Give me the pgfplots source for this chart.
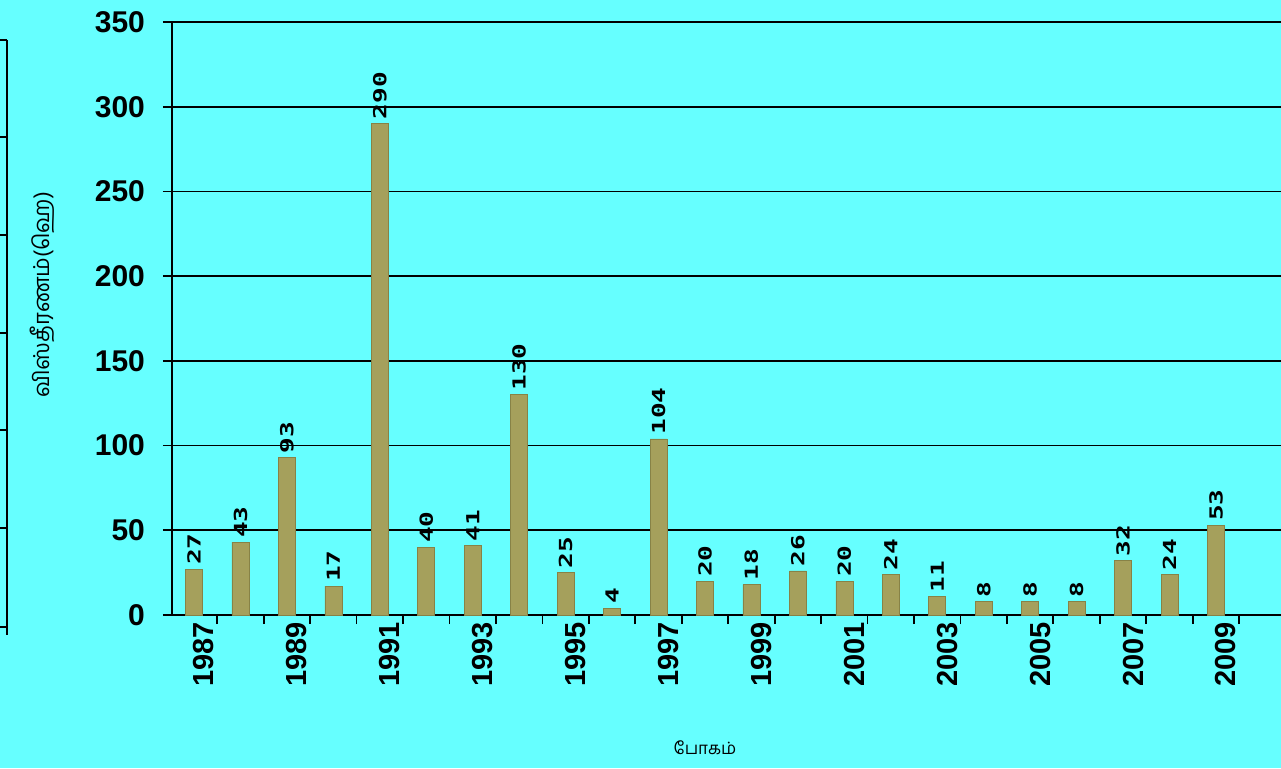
\documentclass[border=0pt]{standalone}
\usepackage{pgfplots}
\pgfplotsset{compat=1.18}
\usepackage{fontspec}
\setmainfont{Liberation Sans}
\newfontfamily\barfont{DejaVu Sans Mono}[FakeStretch=1.45]
\newfontfamily\tamilfont[Script=Tamil]{Hind Madurai}
\definecolor{bg}{RGB}{102,255,255}
\definecolor{barfill}{RGB}{165,160,92}
\definecolor{baredge}{RGB}{135,130,70}
\begin{document}
\begin{tikzpicture}
\fill[bg] (0,0) rectangle (640.5pt,384pt);
\useasboundingbox (0,0) rectangle (640.5pt,384pt);
% edge of a neighbouring chart, cut off at the left
\draw[line width=0.8pt] (3.5pt,364pt) -- (3.5pt,66.5pt);
\foreach \y in {364,315.5,266.5,217.5,169,120,70.5}
  \draw[line width=0.8pt] (0pt,\y pt) -- (3.5pt,\y pt);
\begin{axis}[
  at={(86pt,76.5pt)}, anchor=south west,
  scale only axis, width=554.5pt, height=296.5pt,
  xmin=-0.4736, xmax=23.4, ymin=0, ymax=350,
  axis x line=bottom, axis y line=left,
  axis line style={-, line width=0.9pt},
  ybar, bar width=8.5pt,
  ytick={0,50,...,350},
  ymajorgrids, grid style={black, line width=0.85pt},
  y tick style={black, line width=0.9pt},
  tick align=outside,
  major tick length=4.5pt,
  xtick={-0.5,0.5,...,22.5}, xticklabels={},
  x tick style={black, line width=0.9pt},
  extra x ticks={0,2,...,22},
  extra x tick labels={1987,1989,1991,1993,1995,1997,1999,2001,2003,2005,2007,2009},
  extra x tick style={major tick length=0pt, grid=none},
  x tick label style={rotate=90, anchor=east, font=\bfseries\fontsize{14.5}{14.5}\selectfont, yshift=-5pt},
  y tick label style={font=\bfseries\fontsize{15}{15}\selectfont, xshift=-5.5pt},
  /pgf/number format/assume math mode=true,
  nodes near coords,
  every node near coord/.append style={rotate=90, anchor=west, font=\barfont\bfseries\fontsize{9}{9}\selectfont, inner sep=2pt},
]
\addplot[fill=barfill, draw=baredge, line width=0.3pt] coordinates {
 (0,27) (1,43) (2,93) (3,17) (4,290) (5,40) (6,41) (7,130) (8,25) (9,4)
 (10,104) (11,20) (12,18) (13,26) (14,20) (15,24) (16,11) (17,8) (18,8)
 (19,8) (20,32) (21,24) (22,53)};
\end{axis}
\node[rotate=90, font=\tamilfont\fontsize{11}{11}\selectfont] at (21pt,236.5pt) {விஸ்தீரணம்(ஹெ)};
\node[font=\tamilfont\fontsize{8.5}{8.5}\selectfont] at (352.5pt,10pt) {போகம்};
\end{tikzpicture}
\end{document}
